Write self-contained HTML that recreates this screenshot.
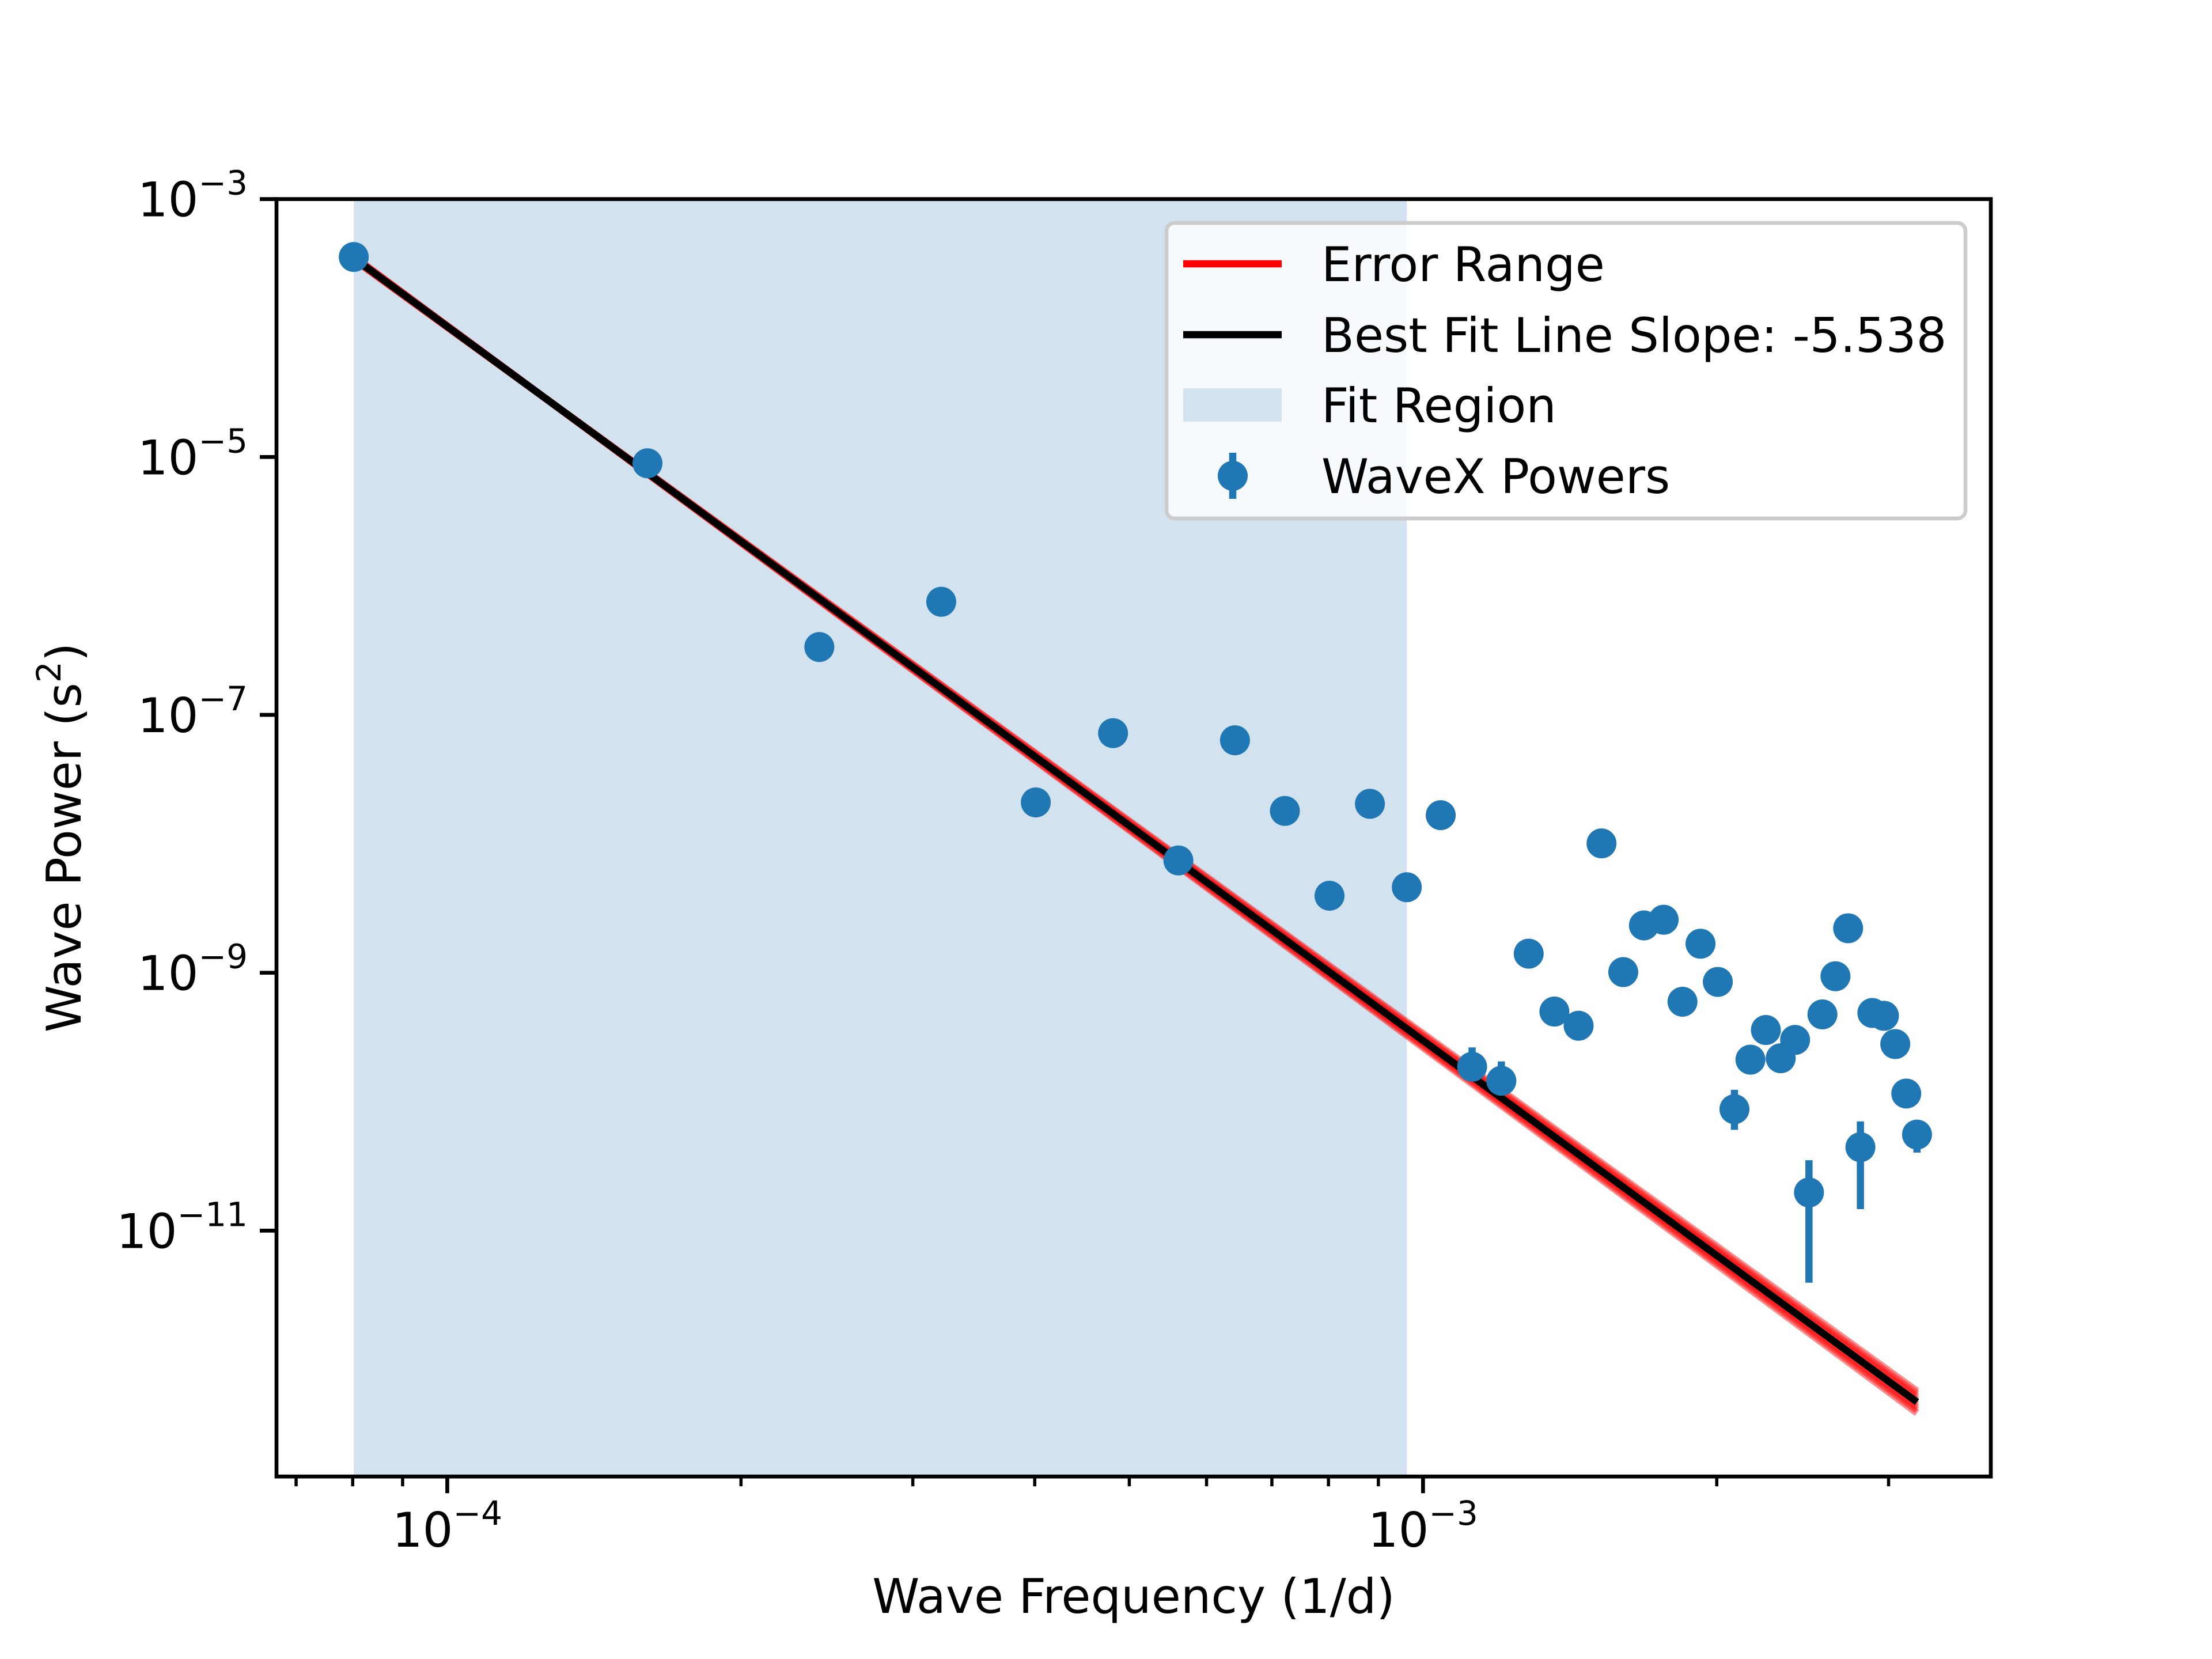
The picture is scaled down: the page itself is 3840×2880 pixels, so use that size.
<!DOCTYPE html>
<html><head><meta charset="utf-8"><style>
html,body{margin:0;padding:0;background:#fff;}
svg{display:block;font-family:"DejaVu Sans","Liberation Sans",sans-serif;}
</style></head><body>
<svg id="chart" width="3840" height="2880" viewBox="0 0 3840 2880" xmlns="http://www.w3.org/2000/svg">
<rect x="0" y="0" width="3840" height="2880" fill="#fff"/>
<g id="plot"></g>
</svg>
<script>
// data
const harmonics = [1,2,3,4,5,6,7,8,9,10,11,12,13,14,15,16,17,18,19,20,21,22,23,24,25,26,27,28,29,30,31,32,33,34,35,36,37,38,39,40];
const baseFreq = 8.02e-5;
const logPower = [-3.449,-5.049,-6.474,-6.123,-7.679,-7.142,-8.129,-7.197,-7.745,-8.403,-7.690,-8.337,-7.778,-9.729,-9.838,-8.852,-9.301,-9.411,-7.997,-8.995,-8.633,-8.589,-9.225,-8.775,-9.071,-10.058,-9.674,-9.444,-9.663,-9.521,-10.704,-9.323,-9.027,-8.655,-10.353,-9.312,-9.334,-9.553,-9.937,-10.255];
const errLow  = [0,0,0,0,0,0,0,0,0,0,0,0,0,0.09,0.09,0,0,0,0,0,0,0,0,0.05,0.05,0.16,0.06,0,0.06,0.03,0.70,0,0,0,0.48,0,0,0,0,0.14];
const errHigh = [0,0,0,0,0,0,0,0,0,0,0,0,0,0.15,0.15,0,0,0,0,0,0,0,0,0.06,0.06,0.15,0.08,0,0.08,0.03,0.25,0,0,0,0.20,0,0,0,0,0.10];
const fitSlope = -5.538;
const fitIntercept = -26.14;
const fitRegion = [1, 12];
const yTicks = [-3,-5,-7,-9,-11];
const xTicks = [-4,-3];
const xMinor = [7e-5,8e-5,9e-5,2e-4,3e-4,4e-4,5e-4,6e-4,7e-4,8e-4,9e-4,2e-3,3e-3];

const L=480,R=3456,T=345.6,B=2563.2;
const xlo=-4.175, xhi=-4.175+1214/691;
const ylo=-3-8*904/730, yhi=-3;
const X=lf=>L+(lf-xlo)/(xhi-xlo)*(R-L);
const Y=lp=>T+(yhi-lp)/(yhi-ylo)*(B-T);
const NS="http://www.w3.org/2000/svg";
const g=document.getElementById('plot');
function mk(tag,attrs,parent){const e=document.createElementNS(NS,tag);for(const k in attrs)e.setAttribute(k,attrs[k]);(parent||g).appendChild(e);return e;}

const fx0=X(Math.log10(baseFreq*fitRegion[0])), fx1=X(Math.log10(baseFreq*fitRegion[1]));
const reg=mk('rect',{x:fx0,y:T,width:fx1-fx0,height:B-T,fill:'#d2e3ef'});



const lf0=Math.log10(baseFreq*harmonics[0]), lf1=Math.log10(baseFreq*harmonics[harmonics.length-1]);
const pivot=-3.9;
const band=mk('g',{});


[-0.06,-0.045,-0.03,-0.015,0.015,0.03,0.045,0.06].forEach(d=>{
  const s=fitSlope+d, b=fitIntercept+fitSlope*pivot-s*pivot;
  const ln=mk('line',{x1:X(lf0),y1:Y(b+s*lf0),x2:X(lf1),y2:Y(b+s*lf1),stroke:'#ff0000','stroke-width':12.5,'stroke-opacity':0.45},band);
  
  
});
const fit=mk('line',{x1:X(lf0),y1:Y(fitIntercept+fitSlope*lf0),x2:X(lf1),y2:Y(fitIntercept+fitSlope*lf1),stroke:'#000','stroke-width':12.5});



harmonics.forEach((h,i)=>{
  const cx=X(Math.log10(baseFreq*h)), lp=logPower[i];
  if(errLow[i]||errHigh[i]){
    const eb=mk('line',{x1:cx,x2:cx,y1:Y(lp+errHigh[i]),y2:Y(lp-errLow[i]),stroke:'#1f77b4','stroke-width':12.5});
    
    
  }
  const c=mk('circle',{cx:cx,cy:Y(lp),r:26,fill:'#1f77b4'});
  
  
});

const fr=mk('rect',{x:L,y:T,width:R-L,height:B-T,fill:'none',stroke:'#000','stroke-width':6.7});



yTicks.forEach(t=>{
  const y=Y(t);
  const tk=mk('line',{x1:L-29,x2:L,y1:y,y2:y,stroke:'#000','stroke-width':6.7});
  
  
  const tx=mk('text',{x:L-50,y:y+30,'text-anchor':'end','font-size':83});
  
  
  tx.innerHTML='10<tspan dy="-38" font-size="58">\u2212'+Math.abs(t)+'</tspan>';
});
xMinor.forEach(v=>{
  const x=X(Math.log10(v));
  const tk=mk('line',{x1:x,x2:x,y1:B,y2:B+17,stroke:'#000','stroke-width':5.5});
  
  
});
xTicks.forEach(t=>{
  const x=X(t);
  const tk=mk('line',{x1:x,x2:x,y1:B,y2:B+29,stroke:'#000','stroke-width':6.7});
  
  
  const tx=mk('text',{x:x,y:B+122,'text-anchor':'middle','font-size':83});
  
  
  tx.innerHTML='10<tspan dy="-38" font-size="58">\u2212'+Math.abs(t)+'</tspan>';
});
</script>
<svg style="position:absolute;left:0;top:0" width="3840" height="2880" viewBox="0 0 3840 2880" xmlns="http://www.w3.org/2000/svg" font-family="DejaVu Sans, Liberation Sans, sans-serif">
<text x="1968" y="2800" text-anchor="middle" font-size="83">Wave Frequency (1/d)</text>
<text transform="translate(140,1454) rotate(-90)" text-anchor="middle" font-size="83">Wave Power (s<tspan dy="-35" font-size="58">2</tspan><tspan dy="35">)</tspan></text>
<g>
<rect x="2025" y="387" width="1387" height="513" rx="14" fill="#fff" fill-opacity="0.8" stroke="#ccc" stroke-width="6.7"/>
<g>
<line x1="2054" x2="2225" y1="458" y2="458" stroke="#ff0000" stroke-width="12.5"/>
<text x="2294" y="488" font-size="83">Error Range</text></g>
<g>
<line x1="2054" x2="2225" y1="581" y2="581" stroke="#000" stroke-width="12.5"/>
<text x="2294" y="611" font-size="83">Best Fit Line Slope: -5.538</text></g>
<g>
<rect x="2054" y="674" width="171" height="58" fill="#d2e3ef"/>
<text x="2294" y="733" font-size="83">Fit Region</text></g>
<g>
<line x1="2140" x2="2140" y1="786" y2="866" stroke="#1f77b4" stroke-width="12.5"/>
<circle cx="2140" cy="826" r="26" fill="#1f77b4"/>
<text x="2294" y="856" font-size="83">WaveX Powers</text></g>
</g>
</svg>
</body></html>
